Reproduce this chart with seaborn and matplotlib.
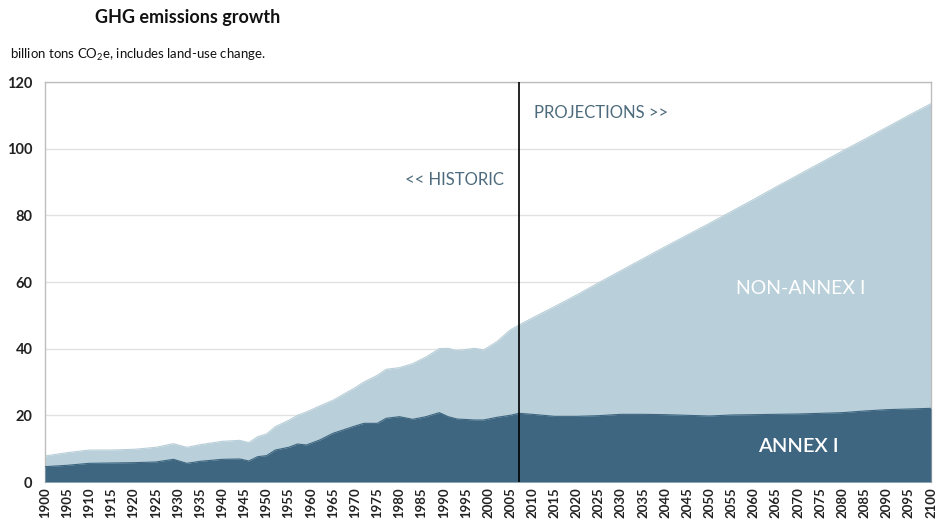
import matplotlib
matplotlib.use("Agg")
import matplotlib.pyplot as plt
import seaborn as sns
import pandas as pd

years = [1900, 1905, 1910, 1915, 1920, 1925, 1929, 1932, 1935, 1940, 1944, 1946, 1948,
         1950, 1952, 1955, 1957, 1959, 1962, 1965, 1970, 1972, 1975, 1977, 1980, 1983,
         1986, 1989, 1991, 1993, 1997, 1999, 2002, 2005, 2007, 2010, 2015, 2020, 2025,
         2030, 2035, 2040, 2045, 2050, 2055, 2060, 2065, 2070, 2075, 2080, 2085, 2090,
         2095, 2100]

total = [7.8, 8.8, 9.6, 9.6, 9.8, 10.4, 11.5, 10.4, 11.2, 12.2, 12.5, 11.8, 13.6,
         14.4, 16.6, 18.5, 20.0, 21.0, 22.8, 24.5, 28.3, 30.0, 32.0, 33.8, 34.3, 35.5,
         37.5, 40.0, 40.1, 39.4, 40.1, 39.6, 42.1, 45.6, 47.1, 49.2, 52.6, 56.1, 59.8,
         63.4, 67.0, 70.6, 74.1, 77.6, 81.2, 84.8, 88.5, 92.1, 95.7, 99.3, 102.8, 106.4,
         110.0, 113.5]

annex_i = [4.6, 5.0, 5.6, 5.7, 5.8, 6.0, 6.8, 5.6, 6.2, 6.8, 6.9, 6.3, 7.6,
           7.9, 9.6, 10.4, 11.4, 11.1, 12.6, 14.6, 16.8, 17.6, 17.6, 19.1, 19.6, 18.8,
           19.6, 20.8, 19.6, 18.9, 18.6, 18.6, 19.4, 20.0, 20.6, 20.3, 19.7, 19.7, 19.9,
           20.3, 20.3, 20.2, 20.0, 19.8, 20.1, 20.2, 20.3, 20.4, 20.6, 20.8, 21.3, 21.7,
           21.9, 22.1]

split_year = 2007
tick_years = list(range(1900, 2101, 5))
y_ticks = [0, 20, 40, 60, 80, 100, 120]

title = "GHG emissions growth"
subtitle = "billion tons CO$_2$e, includes land-use change."

df = pd.DataFrame({"year": years, "total": total, "annex": annex_i})

sns.set_theme(style="white")
plt.rcParams["font.family"] = ["Lato", "DejaVu Sans"]
plt.rcParams["mathtext.fontset"] = "custom"
plt.rcParams["mathtext.rm"] = "Lato"
plt.rcParams["mathtext.it"] = "Lato"

DARK = "#3e6680"
LIGHT = "#b9cfd9"
TXT = "#4d6b7c"

fig = plt.figure(figsize=(9.4, 5.29), dpi=100)
ax = fig.add_axes([45 / 940, 1 - 482 / 529, (931 - 45) / 940, (482 - 82) / 529])

ax.fill_between(df["year"], 0, df["total"], color=LIGHT, linewidth=0, zorder=2)
ax.fill_between(df["year"], 0, df["annex"], color=DARK, linewidth=0, zorder=3)
sns.lineplot(data=df, x="year", y="total", ax=ax, color=LIGHT, linewidth=0.8, zorder=2)
sns.lineplot(data=df, x="year", y="annex", ax=ax, color=DARK, linewidth=0.8, zorder=3)

ax.axvline(split_year, color="black", linewidth=1.2, zorder=5)

ax.set_xlim(1900, 2100)
ax.set_ylim(0, 120)
ax.set_xticks(tick_years)
ax.set_xticklabels([str(y) for y in tick_years], rotation=90, fontsize=9.5,
                   fontweight="bold", color="#222222")
ax.set_yticks(y_ticks)
ax.set_yticklabels([str(v) for v in y_ticks], fontsize=10.5, fontweight="bold", color="#222222")
ax.tick_params(axis="x", length=0, pad=4)
ax.tick_params(axis="y", length=0, pad=9)
ax.set_xlabel("")
ax.set_ylabel("")
ax.grid(axis="y", color="#e2e2e2", linewidth=1, zorder=0)
ax.set_axisbelow(True)
for side in ["left", "top", "right"]:
    ax.spines[side].set_color("#bdbdbd")
    ax.spines[side].set_linewidth(1)
ax.spines["bottom"].set_visible(False)

ax.text(2003.6, 90.6, "<< HISTORIC", ha="right", va="center", fontsize=12, color=TXT, zorder=6)
ax.text(2010.4, 110.8, "PROJECTIONS >>", ha="left", va="center", fontsize=12, color=TXT, zorder=6)
ax.text(2070.5, 58, "NON-ANNEX I", ha="center", va="center", fontsize=14, color="white", zorder=6)
ax.text(2070, 10.6, "ANNEX I", ha="center", va="center", fontsize=14.5, color="white",
        fontweight="semibold", zorder=6)

fig.text(95 / 940, 1 - 18 / 529, title, ha="left", va="center", fontsize=13,
         fontweight="bold", color="#111111")
fig.text(10 / 940, 1 - 55 / 529, subtitle, ha="left", va="center", fontsize=9.5, color="#111111")

fig.savefig("out.png", dpi=100)
